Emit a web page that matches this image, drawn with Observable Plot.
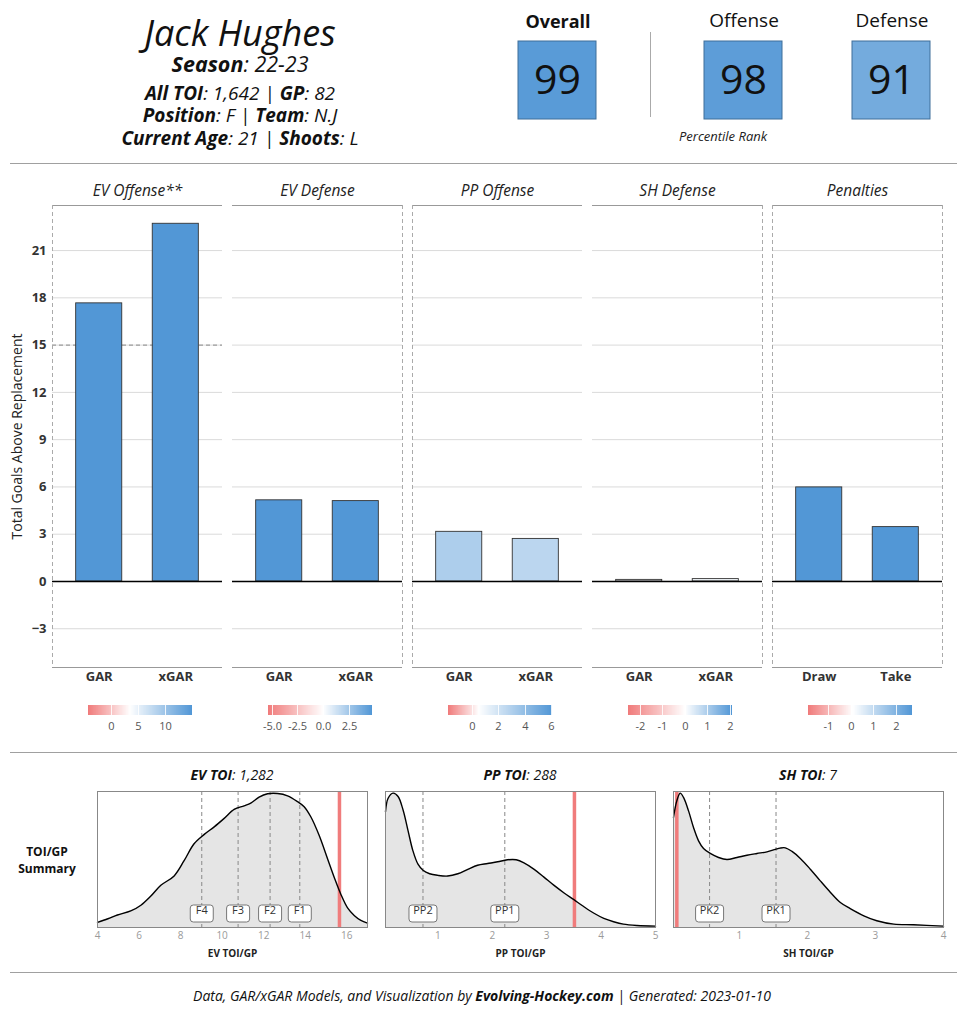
<!DOCTYPE html>
<html>
<head>
<meta charset="utf-8">
<script src="https://cdn.jsdelivr.net/npm/d3@7"></script>
<script src="https://cdn.jsdelivr.net/npm/@observablehq/plot@0.6"></script>
<style>
  body { margin: 0; background: #fff; font-family: "Open Sans", sans-serif; color: #111; }
  #page { position: relative; width: 964px; height: 1024px; overflow: hidden; background: #fff; }
  .t { position: absolute; line-height: 1; white-space: nowrap; }
  .c { text-align: center; }
  .hr { position: absolute; left: 10px; width: 947px; height: 0; border-top: 1px solid #a0a0a0; }
  .abs { position: absolute; }
  .abs svg { display: block; overflow: visible; }
  #bars g[aria-label="y-axis tick label"] text { font-weight: 700; font-size: 13px; }
  #bars g[aria-label="y-axis label"] text { font-weight: 400; font-size: 14px; fill: #222; }
  .lg line { stroke: #fff; stroke-opacity: 0.85; }
  .dens g[aria-label="x-axis label"] text { fill: #222; font-weight: 700; font-size: 10px; }
  .dens g[aria-label="x-axis tick label"] text { fill: #9a9a9a; }
</style>
</head>
<body>
<div id="page"></div>
<script>
// ---------------- data ----------------
const playerName = "Jack Hughes";
const season = "22-23";
const allTOI = "1,642";
const gamesPlayed = "82";
const position = "F";
const team = "N.J";
const currentAge = "21";
const shoots = "L";

const ratingNames = ["Overall", "Offense", "Defense"];
const ratingValues = [99, 98, 91];

const panels = ["EV Offense**", "EV Defense", "PP Offense", "SH Defense", "Penalties"];
const barPanels = ["EV Offense**", "EV Offense**", "EV Defense", "EV Defense", "PP Offense", "PP Offense", "SH Defense", "SH Defense", "Penalties", "Penalties"];
const barMetrics = ["GAR", "xGAR", "GAR", "xGAR", "GAR", "xGAR", "GAR", "xGAR", "Draw", "Take"];
const barValues = [17.65, 22.7, 5.15, 5.1, 3.15, 2.7, 0.1, 0.15, 5.97, 3.45];
const yTicks = [-3, 0, 3, 6, 9, 12, 15, 18, 21];
const yDomain = [-5.46, 23.86];
const refPanel = "EV Offense**";
const refValue = 15;
const yLabel = "Total Goals Above Replacement";

const legendLow = [-4.34, -5.36, -1.83, -2.52, -1.88];
const legendMid = [3.5, 0, 0.5, 0, 0.1];
const legendHigh = [15.08, 4.77, 6.08, 2.09, 2.70];
const legendTicks = [[0, 5, 10], [-5, -2.5, 0, 2.5], [0, 2, 4, 6], [-2, -1, 0, 1, 2], [-1, 0, 1, 2]];
const legendDigits = [0, 1, 0, 0, 0];

const evTitle = ["EV TOI", "1,282"];
const evX = [4.0, 4.5, 4.96, 5.6, 6.09, 6.57, 7.05, 7.69, 8.17, 8.65, 9.14, 9.62, 10.1, 10.58, 11.06, 11.38, 11.78, 12.19, 12.67, 13.15, 13.63, 13.95, 14.27, 14.67, 15.08, 15.4, 15.72, 16.04, 16.36, 16.68, 17.0];
const evY = [0.038, 0.065, 0.093, 0.123, 0.166, 0.234, 0.314, 0.384, 0.497, 0.623, 0.693, 0.749, 0.812, 0.879, 0.905, 0.925, 0.970, 0.995, 0.997, 0.980, 0.937, 0.899, 0.824, 0.686, 0.510, 0.372, 0.246, 0.146, 0.090, 0.053, 0.033];
const evTicks = [4, 6, 8, 10, 12, 14, 16];
const evLines = [9.02, 10.77, 12.31, 13.74];
const evLineLabels = ["F4", "F3", "F2", "F1"];
const evPlayer = 15.65;

const ppTitle = ["PP TOI", "288"];
const ppX = [0.037, 0.085, 0.177, 0.268, 0.36, 0.45, 0.54, 0.634, 0.726, 0.848, 1.0, 1.18, 1.366, 1.55, 1.73, 1.915, 2.1, 2.28, 2.44, 2.59, 2.77, 2.95, 3.13, 3.32, 3.5, 3.68, 3.87, 4.05, 4.23, 4.41, 4.66, 5.0];
const ppY = [0.861, 0.962, 1.0, 0.975, 0.874, 0.723, 0.572, 0.471, 0.426, 0.400, 0.388, 0.383, 0.400, 0.433, 0.463, 0.476, 0.489, 0.504, 0.504, 0.479, 0.433, 0.375, 0.315, 0.257, 0.207, 0.156, 0.106, 0.068, 0.043, 0.025, 0.015, 0.010];
const ppTicks = [1, 2, 3, 4, 5];
const ppLines = [0.726, 2.23];
const ppLineLabels = ["PP2", "PP1"];
const ppPlayer = 3.51;

const shTitle = ["SH TOI", "7"];
const shX = [0.034, 0.083, 0.132, 0.181, 0.255, 0.328, 0.402, 0.475, 0.574, 0.696, 0.819, 0.966, 1.113, 1.26, 1.407, 1.53, 1.60, 1.676, 1.775, 1.897, 2.044, 2.19, 2.34, 2.485, 2.63, 2.83, 3.02, 3.27, 3.56, 4.0];
const shY = [0.819, 0.943, 1.0, 0.968, 0.868, 0.744, 0.645, 0.588, 0.551, 0.521, 0.506, 0.521, 0.538, 0.551, 0.563, 0.581, 0.591, 0.593, 0.566, 0.514, 0.434, 0.347, 0.261, 0.186, 0.141, 0.087, 0.050, 0.025, 0.020, 0.010];
const shTicks = [1, 2, 3, 4];
const shLines = [0.564, 1.54];
const shLineLabels = ["PK2", "PK1"];
const shPlayer = 0.083;

const captionParts = ["Data, GAR/xGAR Models, and Visualization by ", "Evolving-Hockey.com", " | Generated: ", "2023-01-10"];

// ---------------- helpers ----------------
const RED = "#f07b7b", BLUE = "#5297d6", FONT = "Open Sans";
const page = document.getElementById("page");
function addText(html, left, top, size, extra = "", width = null) {
  const d = document.createElement("div");
  d.className = "t" + (width ? " c" : "");
  d.style.left = left + "px";
  d.style.top = top + "px";
  d.style.fontSize = size + "px";
  if (width) d.style.width = width + "px";
  d.style.cssText += extra;
  d.innerHTML = html;
  page.appendChild(d);
  return d;
}
function place(node, left, top, cls = "") {
  const d = document.createElement("div");
  d.className = "abs " + cls;
  d.style.left = left + "px";
  d.style.top = top + "px";
  d.appendChild(node);
  page.appendChild(d);
  return d;
}
function hr(top) {
  const d = document.createElement("div");
  d.className = "hr"; d.style.top = top + "px"; page.appendChild(d);
}
const B = s => `<b>${s}</b>`;

// ---------------- header ----------------
addText(playerName, 0, 14.7, 36, "font-style:italic;color:#111;", 480);
addText(`${B("Season")}: ${season}`, 0, 52.6, 21.5, "font-style:italic;", 480);
addText(`${B("All TOI")}: ${allTOI} | ${B("GP")}: ${gamesPlayed}`, 0, 84, 19, "font-style:italic;", 480);
addText(`${B("Position")}: ${position} | ${B("Team")}: ${team}`, 0, 106, 19, "font-style:italic;", 480);
addText(`${B("Current Age")}: ${currentAge} | ${B("Shoots")}: ${shoots}`, 0, 129, 19, "font-style:italic;", 480);

const boxLeft = [518, 704, 852];
ratingNames.forEach((name, i) => {
  addText(i === 0 ? B(name) : name, boxLeft[i] - 40, i === 0 ? 11.5 : 11.2, i === 0 ? 18 : 19, "color:#111;", 160);
  const p = Plot.plot({
    width: 80, height: 80, margin: 1,
    style: {fontFamily: FONT, background: "transparent", overflow: "visible"},
    color: {type: "linear", domain: [50, 100], range: ["#ffffff", "#5699d6"]},
    marks: [
      Plot.rect([ratingValues[i]], {fill: d => d, stroke: "#3f6f9a", strokeWidth: 1}),
      Plot.text([ratingValues[i]], {text: d => String(d), frameAnchor: "middle", fontSize: 41, fill: "#111"})
    ]
  });
  place(p, boxLeft[i] - 1, 39.5);
});
const sep = document.createElement("div");
sep.style.cssText = "position:absolute;left:650px;top:32px;width:0;height:85px;border-left:1.5px solid #aaa;";
page.appendChild(sep);
addText("Percentile Rank", 643, 130.2, 13, "font-style:italic;color:#222;", 160);

hr(163);

// ---------------- bar facets ----------------
const bars = barValues.map((v, i) => ({
  panel: barPanels[i], metric: barMetrics[i], value: v,
  slot: i - barPanels.indexOf(barPanels[i])
}));
const colorOpts = panels.map((p, k) => {
  const lo = legendLow[k], hi = legendHigh[k], t0 = (legendMid[k] - lo) / (hi - lo);
  const toWhite = d3.interpolateRgb(RED, "#ffffff"), toBlue = d3.interpolateRgb("#ffffff", BLUE);
  return {
    type: "linear", domain: [lo, hi],
    interpolate: t => { t = Math.max(0, Math.min(1, t)); return t <= t0 ? toWhite(t / t0) : toBlue((t - t0) / (1 - t0)); }
  };
});
const colorScales = colorOpts.map(o => Plot.scale({color: o}));
const fillFor = d => {
  const k = panels.indexOf(d.panel);
  const v = Math.max(legendLow[k], Math.min(legendHigh[k], d.value));
  return colorScales[k].apply(v);
};
const xDom = [-0.11, 2.11];
const sides = [
  {panel: panels[0], x: xDom[0]}, {panel: panels[1], x: xDom[1]},
  {panel: panels[2], x: xDom[0]}, {panel: panels[3], x: xDom[1]},
  {panel: panels[4], x: xDom[0]}, {panel: panels[4], x: xDom[1]}
];

const barPlot = Plot.plot({
  width: 964, height: 527,
  marginLeft: 52, marginRight: 22, marginTop: 35, marginBottom: 30,
  style: {fontFamily: FONT, fontSize: "13px", color: "#333", background: "transparent", overflow: "visible"},
  fx: {domain: panels, paddingInner: 10 / 180, paddingOuter: 0, axis: null},
  x: {domain: xDom, axis: null},
  y: {domain: yDomain},
  marks: [
    Plot.gridY(yTicks, {stroke: "#dadada", strokeOpacity: 1, strokeWidth: 1}),
    Plot.axisY(yTicks, {tickSize: 0, tickPadding: 6, fill: "#333",
      label: yLabel, labelAnchor: "center", labelOffset: 40, labelArrow: "none"}),
    Plot.ruleY([{panel: refPanel, y: refValue}], {fx: "panel", y: "y", stroke: "#888", strokeDasharray: "4,3"}),
    Plot.rect(bars, {fx: "panel", x1: "slot", x2: d => d.slot + 1, y1: 0, y2: "value",
      insetLeft: 15.25, insetRight: 15.25, fill: fillFor, stroke: "#333", strokeWidth: 0.9}),
    Plot.ruleY([0], {stroke: "#000", strokeWidth: 1.5}),
    Plot.ruleY([yDomain[1]], {stroke: "#999", strokeWidth: 1.2}),
    Plot.ruleY([yDomain[0]], {stroke: "#999", strokeWidth: 1.2}),
    Plot.ruleX(sides, {fx: "panel", x: "x", stroke: "#aaa", strokeDasharray: "4,3", strokeWidth: 1}),
    Plot.text(panels, {fx: d => d, text: d => d, frameAnchor: "top", dy: -20.5, fontSize: 15.5, fontStyle: "italic", fill: "#222"}),
    Plot.text(bars, {fx: "panel", x: d => d.slot + 0.5, text: "metric", frameAnchor: "bottom", lineAnchor: "top", dy: 4,
      fontSize: 13, fontWeight: "bold", fill: "#333"})
  ]
});
place(barPlot, 0, 170, "").id = "bars";

// ---------------- colour legends ----------------
const fxScale = barPlot.scale("fx");
panels.forEach((p, k) => {
  const fmt = d => d.toFixed(legendDigits[k]);
  const lg = Plot.legend({
    color: {...colorOpts[k], ticks: legendTicks[k], tickFormat: fmt, label: null},
    ticks: legendTicks[k], tickFormat: fmt, label: null,
    width: 124, height: 32, marginLeft: 10, marginRight: 10, marginTop: 2, tickSize: 4,
    style: {fontFamily: FONT, fontSize: "11px", color: "#555", background: "transparent", overflow: "visible"}
  });
  const center = fxScale.apply(p) + fxScale.bandwidth / 2 + 3;
  place(lg, center - 62, 703, "lg");
});

hr(752);

// ---------------- density panels ----------------
function roundBox(w, h, r) {
  return {
    draw(ctx) {
      const x0 = -w / 2, y0 = -h / 2, x1 = w / 2, y1 = h / 2;
      ctx.moveTo(x0 + r, y0);
      ctx.lineTo(x1 - r, y0); ctx.arcTo(x1, y0, x1, y0 + r, r);
      ctx.lineTo(x1, y1 - r); ctx.arcTo(x1, y1, x1 - r, y1, r);
      ctx.lineTo(x0 + r, y1); ctx.arcTo(x0, y1, x0, y1 - r, r);
      ctx.lineTo(x0, y0 + r); ctx.arcTo(x0, y0, x0 + r, y0, r);
      ctx.closePath();
    }
  };
}
function densityPlot(xs, ys, xDomain, xTicks, xLabel, lines, lineLabels, player, boxW) {
  const pts = xs.map((x, i) => ({x, y: ys[i]}));
  return Plot.plot({
    width: 272, height: 178, marginLeft: 1, marginRight: 1, marginTop: 1, marginBottom: 41,
    style: {fontFamily: FONT, fontSize: "10px", color: "#222", background: "transparent", overflow: "visible"},
    x: {domain: xDomain},
    y: {domain: [0, 1.012], axis: null},
    marks: [
      Plot.areaY(pts, {x: "x", y: "y", fill: "#e5e5e5", curve: "catmull-rom"}),
      Plot.ruleX(lines, {stroke: "#888", strokeDasharray: "4,3", strokeWidth: 1}),
      Plot.ruleX([player], {stroke: "#f07c7c", strokeWidth: 3.5}),
      Plot.lineY(pts, {x: "x", y: "y", stroke: "#000", strokeWidth: 1.4, curve: "catmull-rom"}),
      Plot.dot(lines, {x: d => d, frameAnchor: "bottom", dy: -14, symbol: roundBox(boxW, 17, 3),
        fill: "#fff", stroke: "#777", strokeWidth: 1}),
      Plot.text(lines, {x: d => d, text: (d, i) => lineLabels[i], frameAnchor: "bottom", dy: -14, fontSize: 11, fill: "#333"}),
      Plot.axisX(xTicks, {tickSize: 0, tickPadding: 4, fontSize: 10, label: xLabel, labelAnchor: "center",
        labelOffset: 29, labelArrow: "none"}),
      Plot.frame({stroke: "#888", strokeWidth: 1})
    ]
  });
}
const densSpecs = [
  {title: evTitle, left: 97, xs: evX, ys: evY, dom: [4, 17], ticks: evTicks, label: "EV TOI/GP", lines: evLines, labels: evLineLabels, player: evPlayer, bw: 23},
  {title: ppTitle, left: 385, xs: ppX, ys: ppY, dom: [0.037, 5], ticks: ppTicks, label: "PP TOI/GP", lines: ppLines, labels: ppLineLabels, player: ppPlayer, bw: 28},
  {title: shTitle, left: 673, xs: shX, ys: shY, dom: [0.034, 4], ticks: shTicks, label: "SH TOI/GP", lines: shLines, labels: shLineLabels, player: shPlayer, bw: 28}
];
densSpecs.forEach(s => {
  const p = densityPlot(s.xs, s.ys, s.dom, s.ticks, s.label, s.lines, s.labels, s.player, s.bw);
  place(p, s.left - 1, 790, "dens");
  addText(`<b>${s.title[0]}</b>: ${s.title[1]}`, s.left - 40, 768.3, 14, "font-style:italic;color:#111;", 350);
});
addText("TOI/GP", 7, 846, 12, "font-weight:700;color:#111;", 80);
addText("Summary", 7, 862.7, 12, "font-weight:700;color:#111;", 80);

hr(972);
addText(`${captionParts[0]}<b>${captionParts[1]}</b>${captionParts[2]}${captionParts[3]}`, 0, 988.6, 14, "font-style:italic;color:#111;", 964);
</script>
</body>
</html>
